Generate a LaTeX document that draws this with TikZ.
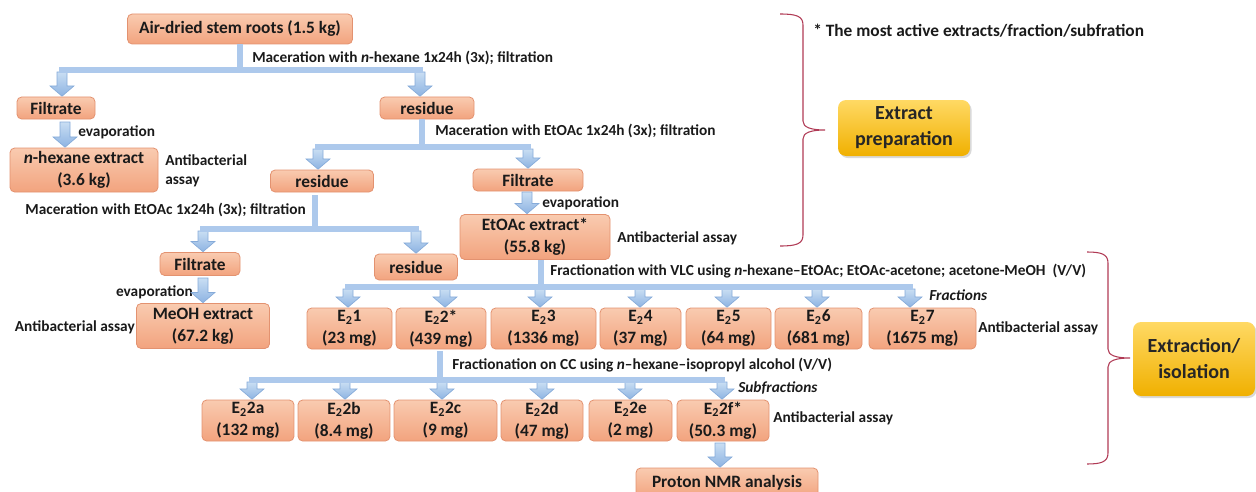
\documentclass[tikz,border=0pt]{standalone}
\usepackage{fontspec}
\setmainfont{Carlito}
\usetikzlibrary{calc,shadows}
\definecolor{boxtop}{HTML}{F9CBB0}
\definecolor{boxbot}{HTML}{F2A37E}
\definecolor{boxline}{HTML}{E39270}
\definecolor{arrtop}{HTML}{C9DEF3}
\definecolor{arrbot}{HTML}{8DB3E2}
\definecolor{arrline}{HTML}{86ABD9}
\definecolor{barfill}{HTML}{ADC9EC}
\definecolor{barline}{HTML}{7BA1D2}
\definecolor{yeltop}{HTML}{FFD964}
\definecolor{yelbot}{HTML}{F0B000}
\definecolor{bracecol}{HTML}{B03A55}
\definecolor{txt}{HTML}{1A1A1A}
\newcommand\dnarr[3]{%
  \path[arr] let \p1=(#3.north), \n1={#1*0.75pt}, \n2={-#2*0.75pt} in
   (\n1-3.75pt,\n2) -- (\n1+3.75pt,\n2) -- (\n1+3.75pt,\y1+8pt) -- (\n1+9pt,\y1+8pt)
   -- (\n1,\y1+0.3pt) -- (\n1-9pt,\y1+8pt) -- (\n1-3.75pt,\y1+8pt) -- cycle;}
\begin{document}
\begin{tikzpicture}[x=0.75pt,y=-0.75pt,
  wh/.style 2 args={minimum width={#1*0.75pt}, minimum height={#2*0.75pt}},
  box/.style={draw=boxline, line width=0.6pt, top color=boxtop, bottom color=boxbot,
    rounded corners=3.5pt, inner sep=0pt, align=center, text=txt,
    font=\fontsize{13}{16.5}\selectfont\bfseries},
  ybox/.style={top color=yeltop, bottom color=yelbot, rounded corners=6pt, inner sep=0pt,
    align=center, text=black!85, font=\fontsize{15}{19.5}\selectfont\bfseries,
    drop shadow={opacity=0.3, shadow xshift=1.2pt, shadow yshift=-1.5pt}},
  lbl/.style={inner sep=0pt, align=left, text=txt, font=\fontsize{11.5}{14}\selectfont\bfseries},
  arr/.style={top color=arrtop, bottom color=arrbot, draw=arrline, line width=0.5pt},
  bar/.style={draw=barline, double=barfill, double distance=4pt, line width=0.5pt},
  brace/.style={draw=bracecol, line width=0.8pt}]
\useasboundingbox (0,0) rectangle (1256,492);

% ---------------- boxes
\node[box, wh={225}{30}] (air) at (240,29) {Air-dried stem roots (1.5 kg)};
\node[box, wh={78}{22}] (filt1) at (56,108) {Filtrate};
\node[box, wh={148}{44}] (hex) at (84,170) {\textit{n}-hexane extract\\(3.6 kg)};
\node[box, wh={94}{22}] (res1) at (427,108) {residue};
\node[box, wh={103}{22}] (res2) at (322,181) {residue};
\node[box, wh={110}{22}] (filt2) at (528,180) {Filtrate};
\node[box, wh={150}{45}] (etoac) at (535,237) {EtOAc extract*\\(55.8 kg)};
\node[box, wh={80}{23}] (filt3) at (200,264) {Filtrate};
\node[box, wh={83}{26}] (res3) at (416,267) {residue};
\node[box, wh={133}{45}] (meoh) at (203,326) {MeOH extract\\(67.2 kg)};

\node[box, wh={85}{41}] (e1) at (349.5,328.5) {E\textsubscript{2}1\\(23 mg)};
\node[box, wh={90}{41}] (e2) at (441,328.5) {E\textsubscript{2}2*\\(439 mg)};
\node[box, wh={105}{41}] (e3) at (543.5,328.5) {E\textsubscript{2}3\\(1336 mg)};
\node[box, wh={81}{41}] (e4) at (640.5,328.5) {E\textsubscript{2}4\\(37 mg)};
\node[box, wh={85}{41}] (e5) at (728.5,328.5) {E\textsubscript{2}5\\(64 mg)};
\node[box, wh={87}{41}] (e6) at (818.5,328.5) {E\textsubscript{2}6\\(681 mg)};
\node[box, wh={107}{41}] (e7) at (922.5,328.5) {E\textsubscript{2}7\\(1675 mg)};

\node[box, wh={92}{41}] (sa) at (248,420.5) {E\textsubscript{2}2a\\(132 mg)};
\node[box, wh={92}{41}] (sb) at (344,420.5) {E\textsubscript{2}2b\\(8.4 mg)};
\node[box, wh={103}{41}] (sc) at (445.5,420.5) {E\textsubscript{2}2c\\(9 mg)};
\node[box, wh={82}{41}] (sd) at (542,420.5) {E\textsubscript{2}2d\\(47 mg)};
\node[box, wh={83}{41}] (se) at (630.5,420.5) {E\textsubscript{2}2e\\(2 mg)};
\node[box, wh={92}{41}] (sf) at (723,420.5) {E\textsubscript{2}2f*\\(50.3 mg)};

\node[box, wh={182}{30}] (nmr) at (727,483) {Proton NMR analysis};

\node[ybox, wh={132}{56}] (prep) at (904,128) {Extract\\preparation};
\node[ybox, wh={122}{74}] (iso) at (1194,359) {Extraction/\\isolation};

% ---------------- labels
\node[lbl, anchor=west] (l1) at (252,58) {Maceration with \textit{n}-hexane 1x24h (3x); filtration};
\node[lbl, anchor=west] (l2) at (78,132) {evaporation};
\node[lbl, anchor=west] (l3) at (165,171) {Antibacterial\\assay};
\node[lbl, anchor=west] (l4) at (435,131) {Maceration with EtOAc 1x24h (3x); filtration};
\node[lbl, anchor=east] (l5) at (306,210) {Maceration with EtOAc 1x24h (3x); filtration};
\node[lbl, anchor=west] (l6) at (542,203) {evaporation};
\node[lbl, anchor=west] (l7) at (617,238) {Antibacterial assay};
\node[lbl, anchor=east] (l8) at (193,292) {evaporation};
\node[lbl, anchor=east] (l9) at (135,327) {Antibacterial assay};
\node[lbl, anchor=west] (l10) at (550,271) {Fractionation with VLC using \textit{n}-hexane--EtOAc; EtOAc-acetone; acetone-MeOH~~(V/V)};
\node[lbl, anchor=west] (l11) at (929,295) {\textit{Fractions}};
\node[lbl, anchor=west] (l12) at (978,328) {Antibacterial assay};
\node[lbl, anchor=west] (l13) at (452,365) {Fractionation on CC using \textit{n}--hexane--isopropyl alcohol (V/V)};
\node[lbl, anchor=west] (l14) at (738,388) {\textit{Subfractions}};
\node[lbl, anchor=west] (l15) at (773,418) {Antibacterial assay};
\node[lbl, anchor=west, font=\fontsize{13}{15}\selectfont\bfseries] (note) at (813,31) {* The most active extracts/fraction/subfration};

% ---------------- arrows
\dnarr{62}{72}{filt1}
\dnarr{420}{72}{res1}
\dnarr{65}{122}{hex}
\dnarr{318}{149}{res2}
\dnarr{528}{149}{filt2}
\dnarr{527}{192}{etoac}
\dnarr{203}{231}{filt3}
\dnarr{416}{231}{res3}
\dnarr{203}{278}{meoh}
\dnarr{348}{289}{e1}
\dnarr{445}{289}{e2}
\dnarr{540}{289}{e3}
\dnarr{640}{289}{e4}
\dnarr{727}{289}{e5}
\dnarr{817}{289}{e6}
\dnarr{910}{289}{e7}
\dnarr{252}{382}{sa}
\dnarr{345}{382}{sb}
\dnarr{442}{382}{sc}
\dnarr{542}{382}{sd}
\dnarr{630}{382}{se}
\dnarr{722}{382}{sf}
\dnarr{720}{443}{nmr}

% ---------------- stems and bars
\coordinate (j1) at (240,70);
\draw[bar] (air.south -| j1) -- (j1);
\draw[bar] (59,70) -- (423,70);
\coordinate (j2) at (422,147);
\draw[bar] (res1.south -| j2) -- (j2);
\draw[bar] (315,147) -- (531,147);
\coordinate (j3) at (315,229);
\draw[bar] (res2.south -| j3) ++(0,3) -- (j3);
\draw[bar] (200,229) -- (419,229);
\coordinate (j4) at (541,287);
\draw[bar] (etoac.south -| j4) -- (j4);
\draw[bar] (345,287) -- (913,287);
\coordinate (j5) at (440,380);
\draw[bar] (e2.south -| j5) ++(0,2) -- (j5);
\draw[bar] (249,380) -- (725,380);

% ---------------- braces
\coordinate (ba) at (780,14);
\coordinate (bb) at (780,246);
\coordinate (bt) at (825,130);
\draw[brace] (ba) .. controls (796,14) and (803,16) .. (803,25) -- (803,121)
  .. controls (803,127) and (810,130) .. (bt) .. controls (810,130) and (803,133) .. (803,139)
  -- (803,235) .. controls (803,244) and (796,246) .. (bb);
\coordinate (bc) at (1087,252);
\coordinate (bd) at (1087,464);
\coordinate (bu) at (1130,358);
\draw[brace] (bc) .. controls (1101,252) and (1108,254) .. (1108,263) -- (1108,349)
  .. controls (1108,355) and (1115,358) .. (bu) .. controls (1115,358) and (1108,361) .. (1108,367)
  -- (1108,453) .. controls (1108,462) and (1101,464) .. (bd);
\end{tikzpicture}
\end{document}
